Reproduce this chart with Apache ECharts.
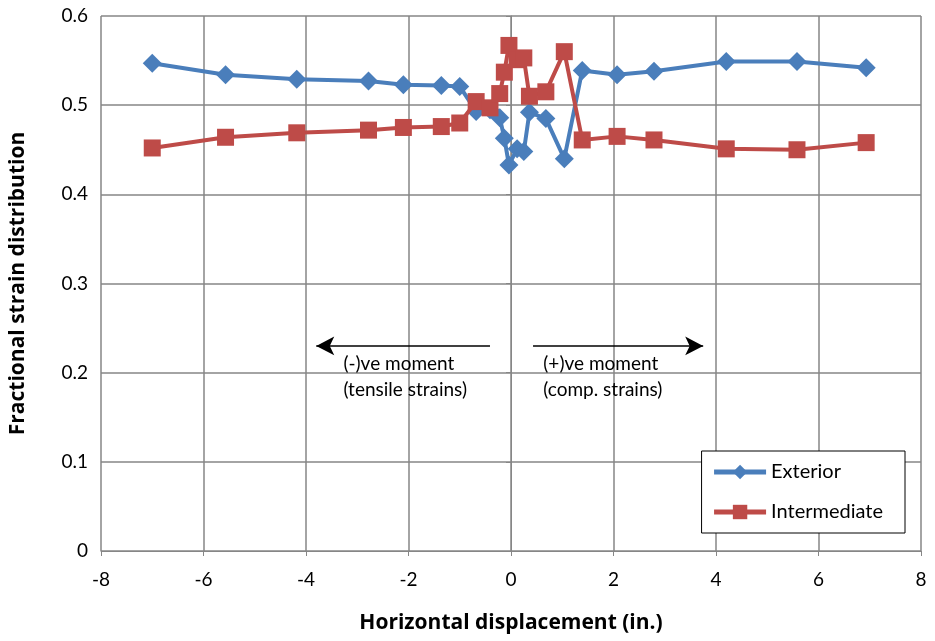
<!DOCTYPE html>
<html><head><meta charset="utf-8">
<script src="https://cdn.jsdelivr.net/npm/echarts@6/dist/echarts.min.js"></script>
<style>html,body{margin:0;padding:0;background:#fff}#c{width:935px;height:641px}</style>
</head><body><div id="c"></div>
<script>
const xExterior = [-7.0,-5.57,-4.18,-2.78,-2.10,-1.36,-1.0,-0.68,-0.41,-0.22,-0.13,-0.04,0.12,0.25,0.36,0.68,1.04,1.39,2.07,2.79,4.2,5.58,6.93];
const exterior = [0.547,0.534,0.529,0.527,0.523,0.522,0.521,0.493,0.495,0.486,0.463,0.433,0.451,0.448,0.492,0.485,0.440,0.539,0.534,0.538,0.549,0.549,0.542];
const xIntermediate = [-7.0,-5.57,-4.18,-2.78,-2.10,-1.36,-1.0,-0.68,-0.41,-0.22,-0.13,-0.04,0.12,0.25,0.36,0.68,1.04,1.39,2.07,2.79,4.2,5.58,6.93];
const intermediate = [0.452,0.464,0.469,0.472,0.475,0.476,0.480,0.504,0.497,0.513,0.537,0.567,0.551,0.553,0.510,0.515,0.560,0.461,0.465,0.461,0.451,0.450,0.458];
const xTicks = [-8,-6,-4,-2,0,2,4,6,8];
const yTicks = [0,0.1,0.2,0.3,0.4,0.5,0.6];
const arrowLeft = [[-0.41,0.23],[-3.8,0.23]];
const arrowRight = [[0.43,0.23],[3.75,0.23]];
const notes = [
  {x:-3.27, y:0.21, text:'(-)ve moment'},
  {x:-3.27, y:0.181, text:'(tensile strains)'},
  {x:0.63, y:0.21, text:'(+)ve moment'},
  {x:0.63, y:0.181, text:'(comp. strains)'}
];

const FONT = 'Lato, "Open Sans", sans-serif';
const TFONT = '"Open Sans", Lato, sans-serif';
const chart = echarts.init(document.getElementById('c'));
const blue = '#4A7EBB', red = '#BE4B48';
const pair = (xs, ys) => xs.map((x,i)=>[x, ys[i]]);
const fmt = v => String(Math.round(v*10)/10);

chart.setOption({
  animation:false,
  textStyle:{fontFamily:FONT},
  grid:{left:100,right:14,top:16,bottom:90,containLabel:false},
  legend:{
    orient:'vertical', right:30, bottom:108,
    backgroundColor:'#fff', borderColor:'#000', borderWidth:1,
    padding:[11,22,11,10], itemGap:20, itemWidth:52, itemHeight:18,
    lineStyle:{width:5},
    textStyle:{fontFamily:FONT,fontSize:20,color:'#000'},
    data:['Exterior','Intermediate']
  },
  xAxis:{
    type:'value', min:xTicks[0], max:xTicks[xTicks.length-1], interval:2,
    axisLine:{onZero:false,lineStyle:{color:'#868686',width:1}},
    axisTick:{show:true,length:5,lineStyle:{color:'#868686'}},
    splitLine:{show:true,lineStyle:{color:'#868686',width:1.5}},
    axisLabel:{fontSize:19,color:'#000',margin:19,fontFamily:FONT},
    name:'Horizontal displacement (in.)', nameLocation:'middle', nameGap:62,
    nameTextStyle:{fontSize:21,fontWeight:'bold',color:'#000',fontFamily:TFONT}
  },
  yAxis:{
    type:'value', min:yTicks[0], max:yTicks[yTicks.length-1], interval:0.1,
    axisLine:{show:true,lineStyle:{color:'#868686',width:1}},
    axisTick:{show:true,length:5,lineStyle:{color:'#868686'}},
    splitLine:{show:true,lineStyle:{color:'#868686',width:1.5}},
    axisLabel:{fontSize:19,color:'#000',margin:13,formatter:fmt,fontFamily:FONT},
    name:'Fractional strain distribution', nameLocation:'middle', nameGap:72,
    nameTextStyle:{fontSize:21,fontWeight:'bold',color:'#000',fontFamily:TFONT}
  },
  series:[
    {name:'Exterior', type:'line', data:pair(xExterior,exterior),
     symbol:'diamond', symbolSize:19, lineStyle:{color:blue,width:4},
     itemStyle:{color:blue}, z:3},
    {name:'Intermediate', type:'line', data:pair(xIntermediate,intermediate),
     symbol:'rect', symbolSize:17, lineStyle:{color:red,width:4},
     itemStyle:{color:red}, z:4,
     markLine:{silent:true, symbol:['none','arrow'], symbolSize:[14,18],
       lineStyle:{color:'#000',width:1.5,type:'solid'}, label:{show:false},
       data:[
         [{coord:arrowLeft[0]},{coord:arrowLeft[1]}],
         [{coord:arrowRight[0]},{coord:arrowRight[1]}]
       ]}
    }
  ]
});

const g = notes.map(n => {
  const p = chart.convertToPixel({gridIndex:0},[n.x,n.y]);
  return {type:'text', x:p[0], y:p[1], style:{text:n.text, fontSize:19, fontFamily:FONT, fill:'#000', textVerticalAlign:'middle'}, z:10};
});
chart.setOption({graphic:g});
</script></body></html>
